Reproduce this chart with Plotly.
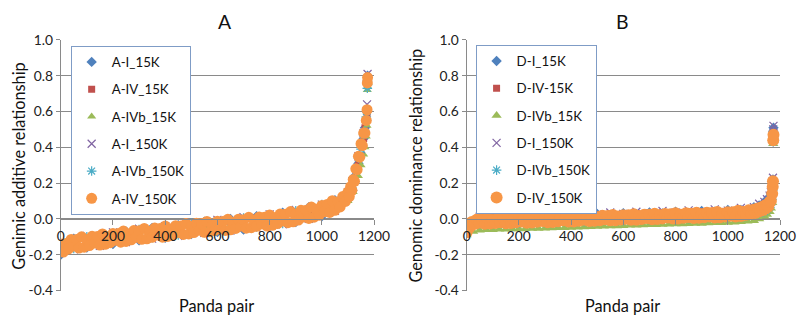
import plotly.graph_objects as go

# ---------------- data ----------------
# Panel A (genomic additive relationship), sorted panda pairs
pairs_A_fine = list(range(0, 1101, 10)) + [1105, 1110, 1115, 1120, 1125, 1130, 1135, 1140, 1145,
                                           1150, 1155, 1160, 1165, 1170, 1173, 1174, 1175]
pairs_A_coarse = list(range(0, 1101, 50)) + [1120, 1140, 1150, 1160, 1165, 1170, 1173, 1174, 1175]

A_IV_150K = [-0.14, -0.185, -0.138, -0.168, -0.115, -0.152, -0.115, -0.163, -0.10, -0.158,
             -0.116, -0.149, -0.097, -0.135, -0.098, -0.146, -0.084, -0.142, -0.10, -0.133,
             -0.081, -0.119, -0.082, -0.13, -0.068, -0.126, -0.084, -0.117, -0.065, -0.103,
             -0.066, -0.114, -0.053, -0.111, -0.07, -0.103, -0.051, -0.09, -0.053, -0.102,
             -0.04, -0.098, -0.056, -0.09, -0.038, -0.076, -0.039, -0.087, -0.026, -0.084,
             -0.042, -0.076, -0.024, -0.063, -0.026, -0.075, -0.014, -0.072, -0.031, -0.064,
             -0.013, -0.052, -0.015, -0.064, -0.002, -0.061, -0.02, -0.053, -0.002, -0.04,
             -0.004, -0.052, 0.009, -0.049, -0.007, -0.041, 0.011, -0.028, 0.009, -0.04,
             0.022, -0.036, 0.007, -0.026, 0.027, -0.011, 0.026, -0.021, 0.041, -0.016,
             0.026, -0.006, 0.048, 0.011, 0.049, 0.003, 0.066, 0.01, 0.053, 0.021,
             0.075, 0.04, 0.081, 0.036, 0.102, 0.048, 0.095, 0.067, 0.125, 0.098,
             0.15,
             0.125, 0.18, 0.16, 0.22, 0.21, 0.28, 0.275, 0.35, 0.345, 0.42, 0.41, 0.48, 0.48, 0.55,
             0.61, 0.76, 0.79]

A_I_15K = [-0.20, -0.11, -0.16, -0.09, -0.14, -0.07, -0.12, -0.05, -0.105, -0.035,
           -0.085, -0.015, -0.073, 0.0, -0.06, 0.015, -0.043, 0.035, -0.018, 0.065,
           0.015, 0.105, 0.11,
           0.23, 0.31, 0.42, 0.45, 0.51, 0.55, 0.60, 0.77, 0.80]
A_IV_15K = [-0.19, -0.12, -0.145, -0.10, -0.125, -0.078, -0.105, -0.06, -0.09, -0.043,
            -0.07, -0.027, -0.058, -0.013, -0.044, 0.004, -0.028, 0.024, -0.004, 0.053,
            0.03, 0.098, 0.11,
            0.22, 0.31, 0.42, 0.45, 0.51, 0.55, 0.59, 0.76, 0.78]
A_IVb_15K = [-0.19, -0.15, -0.15, -0.12, -0.13, -0.10, -0.11, -0.085, -0.095, -0.065,
             -0.075, -0.05, -0.06, -0.035, -0.045, -0.02, -0.03, 0.0, -0.005, 0.03,
             0.03, 0.07, 0.10,
             0.15, 0.24, 0.30, 0.36, 0.40, 0.46, 0.52, 0.72, 0.74]
A_I_150K = [-0.14, -0.17, -0.095, -0.15, -0.075, -0.13, -0.055, -0.11, -0.04, -0.095,
            -0.02, -0.078, -0.005, -0.065, 0.01, -0.05, 0.025, -0.03, 0.05, 0.0,
            0.08, 0.045, 0.15,
            0.18, 0.35, 0.39, 0.48, 0.49, 0.58, 0.64, 0.78, 0.81]
A_IVb_150K = [-0.15, -0.165, -0.10, -0.145, -0.08, -0.125, -0.06, -0.105, -0.045, -0.09,
              -0.025, -0.075, -0.01, -0.06, 0.005, -0.045, 0.02, -0.025, 0.045, 0.005,
              0.08, 0.05, 0.15,
              0.19, 0.34, 0.39, 0.47, 0.49, 0.57, 0.60, 0.73, 0.75]

# Panel B (genomic dominance relationship)
pairs_B_fine = list(range(0, 1101, 10)) + [1105, 1110, 1115, 1120, 1125, 1130, 1135, 1140, 1145,
                                           1150, 1155, 1160, 1165, 1170, 1172, 1173, 1174, 1175]
pairs_B_coarse = list(range(0, 1101, 50)) + [1120, 1140, 1150, 1160, 1165, 1170, 1172, 1173, 1174, 1175]
pairs_B_mid = list(range(0, 1101, 25)) + [1120, 1140, 1150, 1160, 1165, 1170, 1172, 1173, 1174, 1175]

D_IV_150K = [-0.075, -0.05, -0.017, -0.029, -0.003, -0.022, -0.003, -0.027, 0.003, -0.026,
             -0.006, -0.023, 0.002, -0.018, 0.001, -0.024, 0.006, -0.023, -0.003, -0.019,
             0.005, -0.015, 0.004, -0.021, 0.01, -0.02, 0.0, -0.016, 0.008, -0.011,
             0.007, -0.018, 0.013, -0.017, 0.004, -0.013, 0.011, -0.008, 0.01, -0.014,
             0.016, -0.014, 0.007, -0.01, 0.015, -0.005, 0.013, -0.011, 0.019, -0.01,
             0.01, -0.007, 0.018, -0.002, 0.017, -0.008, 0.022, -0.007, 0.013, -0.003,
             0.021, 0.001, 0.02, -0.005, 0.026, -0.004, 0.016, 0.0, 0.024, 0.005,
             0.023, -0.002, 0.029, -0.001, 0.02, 0.003, 0.027, 0.008, 0.026, 0.002,
             0.032, 0.002, 0.023, 0.006, 0.031, 0.011, 0.029, 0.005, 0.035, 0.006,
             0.026, 0.009, 0.034, 0.014, 0.033, 0.008, 0.038, 0.009, 0.029, 0.013,
             0.037, 0.018, 0.037, 0.013, 0.045, 0.016, 0.038, 0.023, 0.049, 0.031,
             0.051,
             0.033, 0.055, 0.04, 0.06, 0.045, 0.065, 0.05, 0.072, 0.058, 0.08, 0.07, 0.095, 0.10, 0.14,
             0.18, 0.21, 0.44, 0.47]

D_I_15K = [-0.05, 0.004, 0.012, 0.006, 0.016, 0.01, 0.02, 0.014, 0.024, 0.018,
           0.028, 0.022, 0.032, 0.026, 0.036, 0.03, 0.04, 0.034, 0.044, 0.04,
           0.05, 0.05, 0.065,
           0.075, 0.095, 0.105, 0.125, 0.14, 0.17, 0.20, 0.22, 0.49, 0.51]
D_IV_15K = [-0.06, 0.0, 0.008, 0.01, 0.012, 0.014, 0.016, 0.018, 0.02, 0.022,
            0.024, 0.026, 0.028, 0.03, 0.032, 0.034, 0.036, 0.038, 0.04, 0.043,
            0.046, 0.05, 0.058,
            0.065, 0.075, 0.085, 0.10, 0.12, 0.155, 0.19, 0.21, 0.46, 0.48]
D_IVb_15K = [-0.09, -0.07, -0.063, -0.06, -0.06, -0.058, -0.058, -0.056, -0.056, -0.055,
             -0.054, -0.053, -0.052, -0.051, -0.05, -0.049, -0.048, -0.046, -0.045, -0.044,
             -0.043, -0.041, -0.04, -0.039, -0.038, -0.036, -0.035, -0.034, -0.033, -0.032,
             -0.031, -0.03, -0.029, -0.028, -0.027, -0.026, -0.025, -0.023, -0.022, -0.021,
             -0.02, -0.018, -0.016, -0.013, -0.01,
             0.0, 0.015, 0.025, 0.04, 0.06, 0.09, 0.15, 0.19, 0.42, 0.44]
D_I_150K = [-0.04, 0.012, 0.008, 0.02, 0.012, 0.024, 0.016, 0.028, 0.02, 0.032,
            0.024, 0.036, 0.028, 0.04, 0.032, 0.044, 0.036, 0.048, 0.04, 0.053,
            0.046, 0.062, 0.065,
            0.085, 0.095, 0.11, 0.13, 0.15, 0.18, 0.21, 0.23, 0.50, 0.52]
D_IVb_150K = [-0.08, -0.03, -0.028, -0.026, -0.024, -0.022, -0.02, -0.018, -0.016, -0.014,
              -0.012, -0.01, -0.008, -0.006, -0.004, -0.002, 0.0, 0.002, 0.004, 0.007,
              0.01, 0.014, 0.022,
              0.03, 0.042, 0.05, 0.065, 0.08, 0.11, 0.16, 0.20, 0.43, 0.45]

x_ticks = [0, 200, 400, 600, 800, 1000, 1200]
y_ticks = [-0.4, -0.2, 0.0, 0.2, 0.4, 0.6, 0.8, 1.0]
y_tick_text = ["-0.4", "-0.2", "0.0", "0.2", "0.4", "0.6", "0.8", "1.0"]

# ---------------- styling ----------------
W, H = 800, 327
S, OFF = 0.98, 3.0          # compensation for the small shrink seen in the photographed page


def px(p):
    return (p - OFF) / S


FONT = "Lato"
GRID = "#8a8a8a"


def style(kind, size):
    base = {
        "blue": dict(symbol="diamond", color="#4F81BD"),
        "red": dict(symbol="square", color="#C0504D"),
        "green": dict(symbol="triangle-up", color="#9BBB59"),
        "purple": dict(symbol="x-thin-open", color="#8064A2", line=dict(color="#8064A2", width=1.2)),
        "cyan": dict(symbol="asterisk-open", color="#4BACC6", line=dict(color="#4BACC6", width=1.2)),
        "orange": dict(symbol="circle", color="#F79646"),
    }[kind]
    base = dict(base)
    base["size"] = size
    return base


fig = go.Figure()

series_A = [
    ("A-I_15K", pairs_A_coarse, A_I_15K, "blue", 8),
    ("A-IV_15K", pairs_A_coarse, A_IV_15K, "red", 7),
    ("A-IVb_15K", pairs_A_coarse, A_IVb_15K, "green", 8),
    ("A-I_150K", pairs_A_coarse, A_I_150K, "purple", 8),
    ("A-IVb_150K", pairs_A_coarse, A_IVb_150K, "cyan", 8),
    ("A-IV_150K", pairs_A_fine, A_IV_150K, "orange", 11),
]
series_B = [
    ("D-I_15K", pairs_B_coarse, D_I_15K, "blue", 8),
    ("D-IV-15K", pairs_B_coarse, D_IV_15K, "red", 7),
    ("D-IVb_15K", pairs_B_mid, D_IVb_15K, "green", 9),
    ("D-I_150K", pairs_B_coarse, D_I_150K, "purple", 8),
    ("D-IVb_150K", pairs_B_coarse, D_IVb_150K, "cyan", 8),
    ("D-IV_150K", pairs_B_fine, D_IV_150K, "orange", 12),
]

for name, xs, ys, st, sz in series_A:
    fig.add_trace(go.Scatter(x=xs, y=ys, mode="markers", name=name, marker=style(st, sz),
                             xaxis="x", yaxis="y", legend="legend", legendgroup=name))
for name, xs, ys, st, sz in series_B:
    fig.add_trace(go.Scatter(x=xs, y=ys, mode="markers", name=name, marker=style(st, sz),
                             xaxis="x2", yaxis="y2", legend="legend2", legendgroup=name))

y_dom = [1 - px(294) / H, 1 - px(35) / H]
x0_pos = y_dom[0] + (0.4 / 1.4) * (y_dom[1] - y_dom[0])


def xax(p0, p1):
    return dict(domain=[px(p0) / W, px(p1) / W], range=[0, 1200], tickvals=x_ticks,
                anchor="free", position=x0_pos,
                showline=True, linecolor=GRID, linewidth=1, ticks="outside", ticklen=5,
                tickcolor=GRID, showgrid=False, zeroline=False,
                tickfont=dict(family=FONT, size=13.8, color="#222"))


def yax(anchor_x):
    return dict(domain=y_dom, range=[-0.4, 1.0], tickvals=y_ticks, ticktext=y_tick_text,
                anchor=anchor_x, showline=True, linecolor=GRID, linewidth=1, ticks="outside",
                ticklen=4, tickcolor=GRID, showgrid=True, gridcolor=GRID, gridwidth=1,
                zeroline=False, tickfont=dict(family=FONT, size=13.8, color="#222"))


legend_common = dict(xanchor="left", yanchor="top", bordercolor="#7F9CC6", borderwidth=1,
                     bgcolor="white", font=dict(family=FONT, size=13.3, color="#111"),
                     tracegroupgap=7, itemclick=False)


def note(text, x, y, size=16.3, angle=0):
    return dict(text=text, x=px(x) / W, y=1 - px(y) / H, xref="paper", yref="paper",
                showarrow=False, xanchor="center", yanchor="middle", textangle=angle,
                font=dict(family=FONT, size=size, color="#111"))


fig.update_layout(
    width=W, height=H, margin=dict(l=0, r=0, t=0, b=0),
    paper_bgcolor="white", plot_bgcolor="white",
    xaxis=xax(60, 375),
    yaxis=yax("x"),
    xaxis2=xax(468, 783),
    yaxis2=yax("x2"),
    legend=dict(x=px(70) / W, y=1 - px(41) / H, **legend_common),
    legend2=dict(x=px(477) / W, y=1 - px(40) / H, **legend_common),
    annotations=[
        note("A", 225, 16, size=19.4),
        note("B", 625, 16, size=19.4),
        note("Genimic additive relationship", 18, 165, angle=-90),
        note("Genomic dominance relationship", 417, 165, angle=-90),
        note("Panda pair", 217, 310),
        note("Panda pair", 625, 310),
    ],
)

PAGE_FIX = (
    "(function(){var h=document.documentElement,b=document.body;"
    "h.style.margin='0';h.style.padding='0';h.style.overflow='hidden';"
    "b.style.margin='0';b.style.padding='0';b.style.overflow='hidden';"
    "})();"
)

fig.write_html("out.html", config={"displayModeBar": False}, post_script=PAGE_FIX)
